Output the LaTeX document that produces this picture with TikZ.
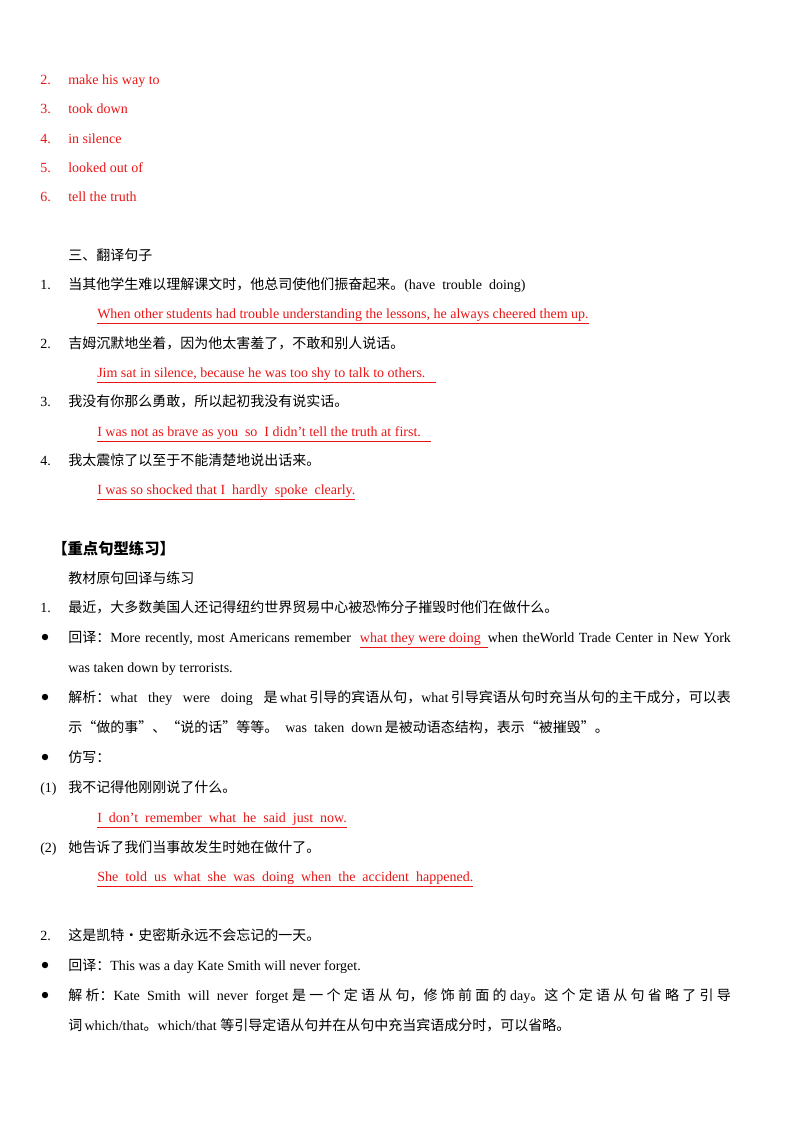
\documentclass[tikz,border=0pt]{standalone}
\usepackage{fontspec}
\setmainfont{Liberation Serif}
\newfontfamily\cjk{Noto Sans CJK SC}
\newcommand\zh[1]{{\cjk #1}}
\definecolor{ans}{RGB}{235,20,20}
\newcommand\ul[1]{\underline{#1}}
\newcommand\jl[1]{\makebox[497pt][s]{#1}}
\begin{document}
\begin{tikzpicture}[x=0.75pt,y=-0.75pt,
  t/.style={anchor=base west,inner sep=0pt,font=\fontsize{10.5}{12}\selectfont},
  r/.style={t,text=ans},
  bul/.style={fill=black}]
\useasboundingbox (0,0) rectangle (800,1132);
% answers
\foreach \n/\s/\y in {2/make his way to/84,3/took down/113,4/in silence/143,5/looked out of/172,6/tell the truth/201}{
  \node[r] (n\n) at (40,\y) {\n.};
  \node[r] (a\n) at (68,\y) {\s};
}
\node[t] (h3) at (68,260) {\zh{三、翻译句子}};
\node[t] (q1n) at (40,289) {1.};
\node[t] (q1) at (68,289) {\zh{当其他学生难以理解课文时，他总司使他们振奋起来。}(have\ \ trouble\ \ doing)};
\node[r] (q1a) at (97,318) {\ul{When other students had trouble understanding the lessons, he always cheered them up.}};
\node[t] (q2n) at (40,348) {2.};
\node[t] (q2) at (68,348) {\zh{吉姆沉默地坐着，因为他太害羞了，不敢和别人说话。}};
\node[r] (q2a) at (97,377) {\ul{Jim sat in silence, because he was too shy to talk to others.\ \ \ }};
\node[t] (q3n) at (40,406) {3.};
\node[t] (q3) at (68,406) {\zh{我没有你那么勇敢，所以起初我没有说实话。}};
\node[r] (q3a) at (97,436) {\ul{I was not as brave as you\ \ so\ \ I didn’t tell the truth at first.\ \ \ }};
\node[t] (q4n) at (40,465) {4.};
\node[t] (q4) at (68,465) {\zh{我太震惊了以至于不能清楚地说出话来。}};
\node[r] (q4a) at (97,494) {\ul{I was so shocked that I\ \ hardly\ \ spoke\ \ clearly.}};
% section
\node[t,font=\cjk\fontsize{11.5}{14}\selectfont\bfseries] (sec) at (52,554) {【重点句型练习】};
\node[t] (sub) at (68,583) {\zh{教材原句回译与练习}};
\node[t] (p1n) at (40,612) {1.};
\node[t] (p1) at (68,612) {\zh{最近，大多数美国人还记得纽约世界贸易中心被恐怖分子摧毁时他们在做什么。}};
\fill[bul] (45,637) circle (3.2);
\node[t] (p1b) at (68,642) {\jl{\zh{回译：}More recently, most Americans remember\ \ {\color{ans}\ul{what they were doing\ \ }}when theWorld Trade Center in New York}};
\node[t] (p1c) at (68,672) {was taken down by terrorists.};
\fill[bul] (45,697) circle (3.2);
\node[t] (p1d) at (68,702) {\jl{\zh{解析：}what\ \ they\ \ were\ \ doing\ \ \zh{是}\,what\,\zh{引导的宾语从句，}what\,\zh{引导宾语从句时充当从句的主干成分，可以表}}};
\node[t] (p1e) at (68,732) {\zh{示“做的事”、“说的话”等等。}\ \ was\ \ taken\ \ down\,\zh{是被动语态结构，表示“被摧毁”。}};
\fill[bul] (45,757) circle (3.2);
\node[t] (p1f) at (68,762) {\zh{仿写：}};
\node[t] (s1n) at (40,792) {(1)};
\node[t] (s1) at (68,792) {\zh{我不记得他刚刚说了什么。}};
\node[r] (s1a) at (97,822) {\ul{I\ \ don’t\ \ remember\ \ what\ \ he\ \ said\ \ just\ \ now.}};
\node[t] (s2n) at (40,852) {(2)};
\node[t] (s2) at (68,852) {\zh{她告诉了我们当事故发生时她在做什了。}};
\node[r] (s2a) at (97,881) {\ul{She\ \ told\ \ us\ \ what\ \ she\ \ was\ \ doing\ \ when\ \ the\ \ accident\ \ happened.}};
\node[t] (p2n) at (40,940) {2.};
\node[t] (p2) at (68,940) {\zh{这是凯特·史密斯永远不会忘记的一天。}};
\fill[bul] (45,965) circle (3.2);
\node[t] (p2b) at (68,970) {\zh{回译：}This was a day Kate Smith will never forget.};
\fill[bul] (45,995) circle (3.2);
\node[t] (p2c) at (68,1000) {\jl{\zh{解\ 析：}Kate\ \ Smith\ \ will\ \ never\ \ forget\ \zh{是\ 一\ 个\ 定\ 语\ 从\ 句，修\ 饰\ 前\ 面\ 的}\ day\zh{。这\ 个\ 定\ 语\ 从\ 句\ 省\ 略\ 了\ 引\ 导}}};
\node[t] (p2d) at (68,1030) {\zh{词}\,which/that\zh{。}which/that\ \zh{等引导定语从句并在从句中充当宾语成分时，可以省略。}};
\end{tikzpicture}
\end{document}
